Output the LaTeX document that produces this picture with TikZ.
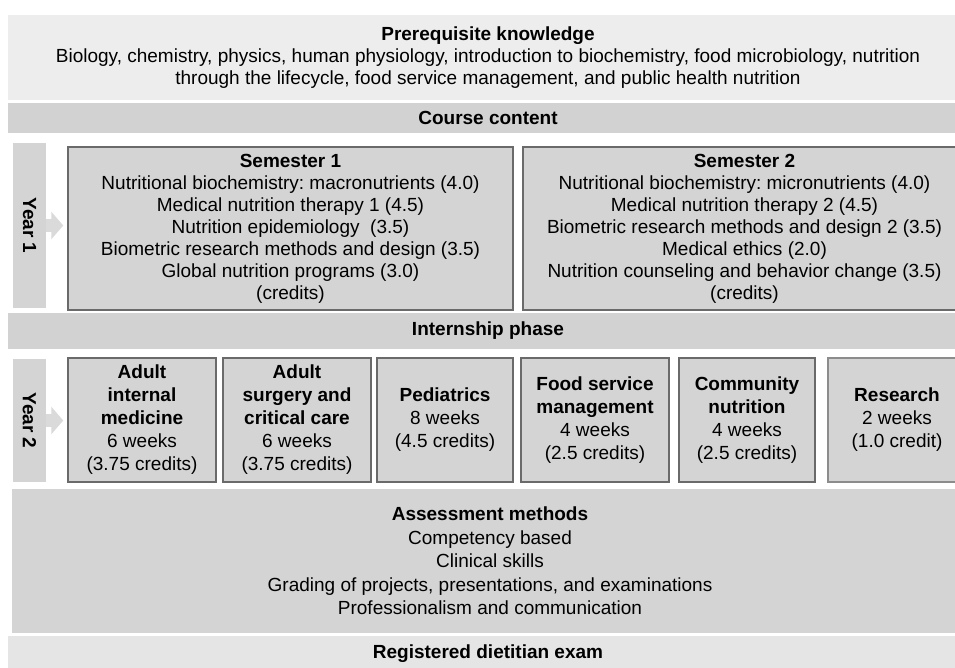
\documentclass[tikz,border=0pt]{standalone}
\usepackage{fontspec}
\setmainfont{Liberation Sans}
\usetikzlibrary{arrows.meta}
\frenchspacing
\definecolor{prefill}{HTML}{EDEDED}
\definecolor{bandfill}{HTML}{D2D2D2}
\definecolor{boxfill}{HTML}{D4D4D4}
\definecolor{boxline}{HTML}{6A6A6A}
\definecolor{lightline}{HTML}{8C8C8C}
\definecolor{arrowfill}{HTML}{DADADA}
\definecolor{rdfill}{HTML}{E5E5E5}
\begin{document}
\frenchspacing
\begin{tikzpicture}[x=1pt,y=-1pt,
  font=\fontsize{19}{22}\selectfont,
  band/.style={fill=#1, draw=none, inner sep=0pt, align=center},
  yearbar/.style={fill=boxfill, draw=none, inner sep=0pt, rotate=-90,
    minimum height=33pt, font=\fontsize{19}{22}\selectfont\bfseries},
  sembox/.style={fill=boxfill, draw=boxline, line width=1.5pt, inner sep=0pt,
    align=center, minimum height=163pt},
  rotbox/.style={fill=boxfill, draw=boxline, line width=1.5pt, inner sep=0pt,
    align=center, minimum height=124pt, font=\fontsize{19}{23}\selectfont},
  blockarrow/.style={draw=arrowfill, line width=13pt,
    -{Triangle[width=27pt,length=12pt]}, shorten >=4pt}
]
\clip (0,0) rectangle (955,667);
\fill[white] (0,0) rectangle (955,667);

% Prerequisite knowledge
\node[band=prefill, minimum width=960pt, minimum height=85pt] (pre) at (488,57.5)
  {\textbf{Prerequisite knowledge}\\
   Biology, chemistry, physics, human physiology, introduction to biochemistry, food microbiology, nutrition\\
   through the lifecycle, food service management, and public health nutrition};

% Course content
\node[band=bandfill, minimum width=960pt, minimum height=30pt] (course) at (488,118)
  {\textbf{Course content}};

% Year 1
\node[yearbar, minimum width=165pt] (y1) at (29.5,225.5) {Year 1};
\node[sembox, minimum width=445pt] (sem1) at (290.5,228.5)
  {\textbf{Semester 1}\\
   Nutritional biochemistry: macronutrients (4.0)\\
   Medical nutrition therapy 1 (4.5)\\
   Nutrition epidemiology\ \ (3.5)\\
   Biometric research methods and design (3.5)\\
   Global nutrition programs (3.0)\\
   (credits)};
\node[sembox, minimum width=443pt] (sem2) at (744.5,228.5)
  {\textbf{Semester 2}\\
   Nutritional biochemistry: micronutrients (4.0)\\
   Medical nutrition therapy 2 (4.5)\\
   Biometric research methods and design 2 (3.5)\\
   Medical ethics (2.0)\\
   Nutrition counseling and behavior change (3.5)\\
   (credits)};
\draw[blockarrow] (y1.north) -- (y1.north -| sem1.west);

% Internship phase
\node[band=bandfill, minimum width=960pt, minimum height=36pt] (intern) at (488,331)
  {\textbf{Internship phase}};

% Year 2
\node[yearbar, minimum width=123pt] (y2) at (29.5,420.5) {Year 2};
\node[rotbox, minimum width=148pt] (r1) at (142,420)
  {\textbf{Adult}\\\textbf{internal}\\\textbf{medicine}\\6 weeks\\(3.75 credits)};
\node[rotbox, minimum width=148pt] (r2) at (297,420)
  {\textbf{Adult}\\\textbf{surgery and}\\\textbf{critical care}\\6 weeks\\(3.75 credits)};
\node[rotbox, minimum width=136pt] (r3) at (445,420)
  {\textbf{Pediatrics}\\8 weeks\\(4.5 credits)};
\node[rotbox, minimum width=148pt] (r4) at (595,420)
  {\textbf{Food service}\\\textbf{management}\\4 weeks\\(2.5 credits)};
\node[rotbox, minimum width=136pt] (r5) at (747,420)
  {\textbf{Community}\\\textbf{nutrition}\\4 weeks\\(2.5 credits)};
\node[rotbox, draw=lightline, minimum width=138pt] (r6) at (897,420)
  {\textbf{Research}\\2 weeks\\(1.0 credit)};
\draw[blockarrow] (y2.north) -- (y2.north -| r1.west);

% Assessment methods
\node[band=boxfill, minimum width=956pt, minimum height=144pt, font=\fontsize{19}{23.5}\selectfont] (assess) at (490,561)
  {\textbf{Assessment methods}\\
   Competency based\\
   Clinical skills\\
   Grading of projects, presentations, and examinations\\
   Professionalism and communication};

% Registered dietitian exam
\node[band=rdfill, minimum width=960pt, minimum height=36pt] (rd) at (488,654)
  {\textbf{Registered dietitian exam}};
\end{tikzpicture}
\end{document}
